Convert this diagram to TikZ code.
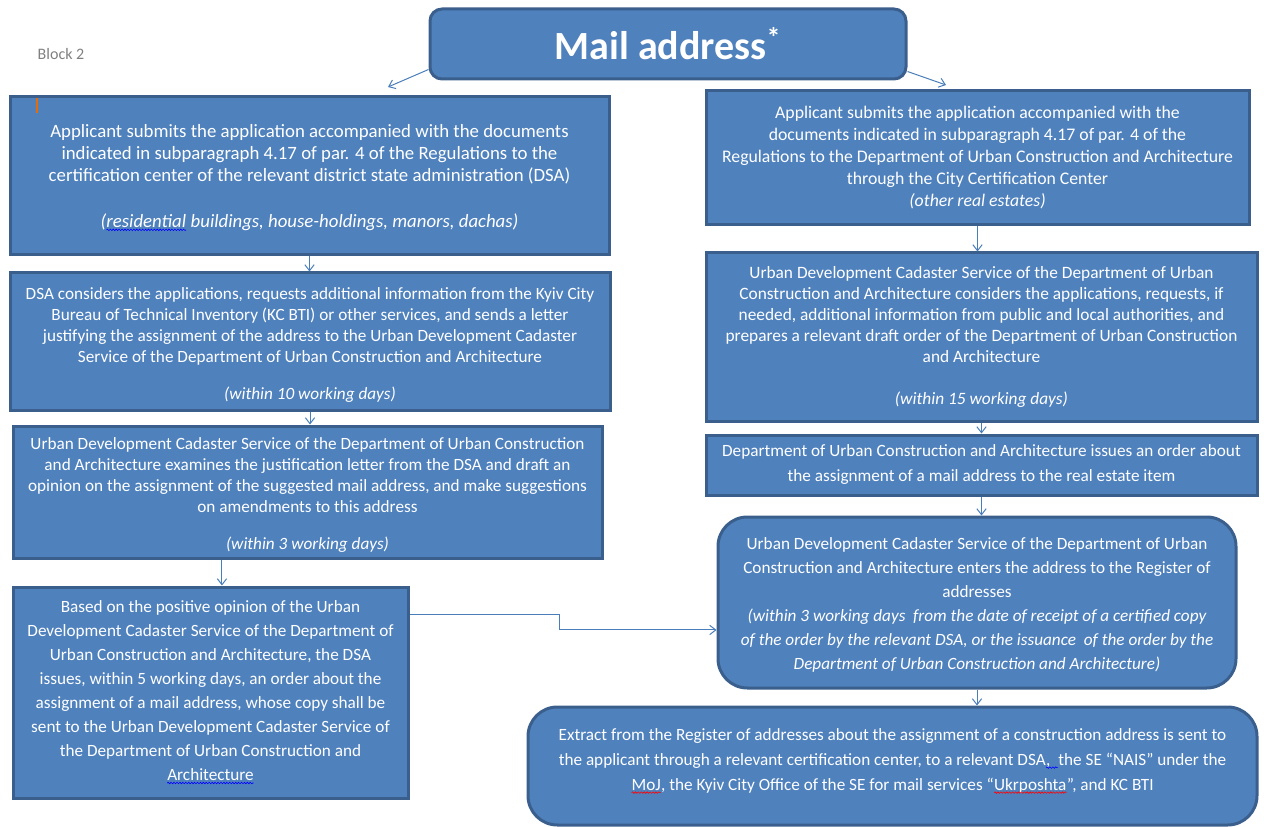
\documentclass[tikz,border=0pt]{standalone}
\usepackage{fontspec}
\setmainfont{Carlito}
\usetikzlibrary{arrows.meta,decorations.pathmorphing}
\definecolor{boxfill}{HTML}{4F81BD}
\definecolor{boxline}{HTML}{3A5F8C}
\definecolor{connblue}{HTML}{4A7EBB}
\definecolor{cursor}{HTML}{E46C0A}
% wavy spell-check underline under a word
\newcommand\spellmark[2]{\tikz[baseline=(sw.base),sharp corners]{\node[inner sep=0pt,outer sep=0pt,draw=none,fill=none,text=white,minimum width=0pt,minimum height=0pt](sw){#2};\draw[#1,sharp corners,line width=0.45pt,decorate,decoration={snake,amplitude=0.55pt,segment length=2.2pt}]([yshift=-1.6pt]sw.base west)--([yshift=-1.6pt]sw.base east);}}
\begin{document}
\begin{tikzpicture}[x=0.75pt,y=-0.75pt,
  box/.style={draw=boxline,line width=2.25pt,fill=boxfill,text=white,align=center,inner sep=0pt},
  sz/.style 2 args={minimum width=#1*0.75pt,minimum height=#2*0.75pt},
  fs/.style 2 args={font=\fontsize{#1}{#2}\selectfont},
  arr/.style={draw=connblue,line width=0.75pt,-{Straight Barb[length=4.5pt,width=7pt]}}]
\useasboundingbox (0,0) rectangle (1264,827);

% header
\node[box,rounded corners=9pt,sz={476}{70},font=\fontsize{30pt}{36pt}\selectfont\bfseries] (title) at (668,44) {Mail address\textsuperscript{*}};
\node[text=gray,fs={12pt}{14pt},inner sep=0pt] (blk) at (61,54) {Block 2};

% left column
\node[box,sz={599}{158},fs={14.1pt}{16.5pt}] (L1) at (309.5,176) {Applicant submits the application accompanied with the documents\\
indicated in subparagraph 4.17 of par. 4 of the Regulations to the\\
certification center of the relevant district state administration (DSA)\\[18pt]
\itshape(\spellmark{blue}{residential} buildings, house-holdings, manors, dachas)\\[-16.8pt]\mbox{}};

\node[box,sz={600}{137},fs={12.9pt}{15.75pt}] (L2) at (310,341.5) {DSA considers the applications, requests additional information from the Kyiv City\\
Bureau of Technical Inventory (KC BTI) or other services, and sends a letter\\
justifying the assignment of the address to the Urban Development Cadaster\\
Service of the Department of Urban Construction and Architecture\\[12pt]
\itshape(within 10 working days)\\[-19.35pt]\mbox{}};

\node[box,sz={589}{132},fs={12.9pt}{15.75pt}] (L3) at (307.5,492) {Urban Development Cadaster Service of the Department of Urban Construction\\
and Architecture examines the justification letter from the DSA and draft an\\
opinion on the assignment of the suggested mail address, and make suggestions\\
on amendments to this address\\[12pt]
\itshape(within 3 working days)\\[-18.55pt]\mbox{}};

\node[box,sz={395}{211},fs={12.9pt}{18pt}] (L4) at (210.5,692.5) {Based on the positive opinion of the Urban\\
Development Cadaster Service of the Department of\\
Urban Construction and Architecture, the DSA\\
issues, within 5 working days, an order about the\\
assignment of a mail address, whose copy shall be\\
sent to the Urban Development Cadaster Service of\\
the Department of Urban Construction and\\
\spellmark{blue}{Architecture}};

% right column
\node[box,sz={543}{134},fs={13.3pt}{16.5pt}] (R1) at (977.5,158) {Applicant submits the application accompanied with the\\
documents indicated in subparagraph 4.17 of par. 4 of the\\
Regulations to the Department of Urban Construction and Architecture\\
through the City Certification Center\\
\itshape(other real estates)};

\node[box,sz={551}{168},fs={13pt}{15.75pt}] (R2) at (981.5,337) {Urban Development Cadaster Service of the Department of Urban\\
Construction and Architecture considers the applications, requests, if\\
needed, additional information from public and local authorities, and\\
prepares a relevant draft order of the Department of Urban Construction\\
and Architecture\\ ~\\
\itshape(within 15 working days)};

\node[box,sz={551}{60},fs={12.9pt}{18.75pt}] (R3) at (981.5,465) {Department of Urban Construction and Architecture issues an order about\\
the assignment of a mail address to the real estate item};

\node[box,rounded corners=22pt,sz={518}{171},fs={12.9pt}{18pt}] (R4) at (977,602.5) {Urban Development Cadaster Service of the Department of Urban\\
Construction and Architecture enters the address to the Register of\\
addresses\\
\itshape(within 3 working days~ from the date of receipt of a certified copy\\
\itshape of the order by the relevant DSA, or the issuance~ of the order by the\\
\itshape Department of Urban Construction and Architecture)\\[-19.3pt]\mbox{}};

\node[box,rounded corners=22pt,sz={729}{118},fs={12.9pt}{18.75pt}] (R5) at (892.5,766) {Extract from the Register of addresses about the assignment of a construction address is sent to\\
the applicant through a relevant certification center, to a relevant DSA\spellmark{blue}{,\ \ }the SE “NAIS” under the\\
\spellmark{red}{MoJ}, the Kyiv City Office of the SE for mail services “\spellmark{red}{Ukrposhta}”, and KC BTI\\[-9pt]\mbox{}};

% text cursor left in the first box
\draw[cursor,line width=1pt] (37,98) -- (37,113);

% connectors
\coordinate (t1) at (388,87);
\coordinate (t2) at (946,85);
\draw[arr] ([yshift=8.25pt]title.south west) -- (t1);
\draw[arr] ([yshift=6.75pt]title.south east) -- (t2);

\draw[arr] (L1.south) -- (L1.south |- L2.north);
\draw[arr] (L2.south) -- (L2.south |- L3.north);
\coordinate (k34) at ([xshift=8.6pt]L4.north);
\draw[arr] (L3.south -| k34) -- (k34);

\draw[arr] (R1.south) -- (R1.south |- R2.north);
\draw[arr] (R2.south) -- (R3.north);
\draw[arr] (R3.south) -- (R3.south |- R4.north);
\draw[arr] (R4.south) -- (R4.south |- R5.north);

\draw[arr] ([yshift=-21.75pt]L4.north east) -- ++(150,0) |- ([yshift=-20.6pt]R4.west);
\end{tikzpicture}
\end{document}
